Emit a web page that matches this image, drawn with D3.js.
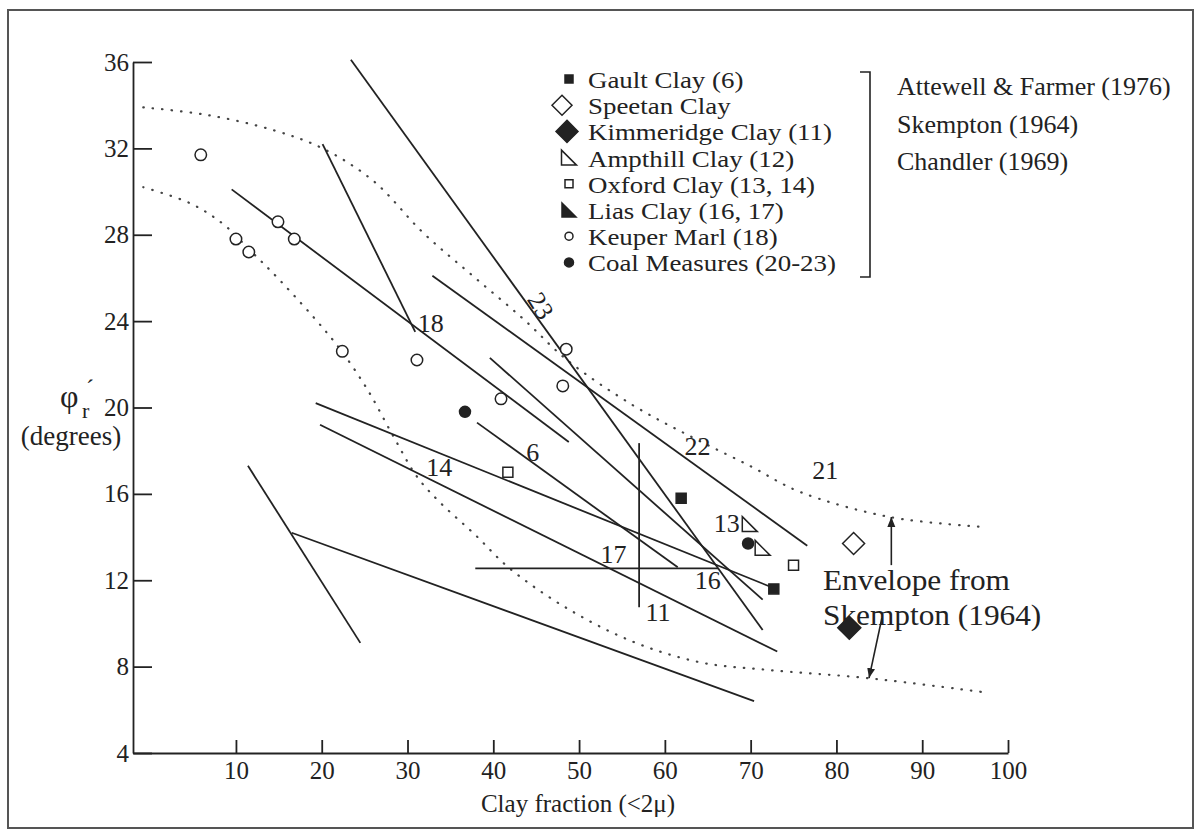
<!DOCTYPE html>
<html>
<head>
<meta charset="utf-8">
<script src="https://cdn.jsdelivr.net/npm/d3@7"></script>
<style>
  body { margin: 0; background: #fff; }
  text { font-family: "Liberation Serif", "Times New Roman", serif; fill: #222; }
</style>
</head>
<body>
<svg id="chart" width="1201" height="836"></svg>
<script>
// ---- data (clay fraction %, residual angle deg) ----
const keuperMarl = [[5.9,31.7],[10.0,27.8],[11.5,27.2],[14.9,28.6],[16.8,27.8],[22.4,22.6],[31.1,22.2],[40.9,20.4],[48.5,22.7],[48.1,21.0]]
const coalMeasures = [[36.7,19.8],[69.7,13.7]]
const gaultClay = [[61.9,15.8],[72.7,11.6]]
const oxfordClay = [[41.7,17.0],[75.0,12.7]]
const ampthillClay = [[69.9,14.6],[71.4,13.5]]
const speetanClay = [[82.0,13.7]]
const kimmeridgeClay = [[81.5,9.8]]

// straight lines from the different sources [x1,y1,x2,y2]
const trendLines = [
  [9.5,30.1,48.8,18.4],
  [20.1,32.2,30.9,23.5],
  [23.4,36.1,71.4,9.7],
  [32.9,26.1,76.6,13.6],
  [39.6,22.3,71.4,11.1],
  [38.1,19.3,61.5,12.6],
  [19.3,20.2,72.3,11.7],
  [19.8,19.2,73.1,8.7],
  [37.9,12.55,66.2,12.55],
  [57.0,18.35,57.0,10.75],
  [16.5,14.2,70.4,6.4],
  [11.4,17.3,24.5,9.1]
]
const lineLabels = ["18","23","22","21","6","14","17","16","11","13"]
const lineLabelPos = [[32.7,23.9],[45.5,24.7],[63.8,18.2],[78.7,17.1],[44.6,17.9],[33.7,17.2],[54.0,13.2],[65.0,12.0],[59.2,10.5],[67.2,14.65]]

// Skempton (1964) envelope
const upperEnvelope = [[-0.8,33.9],[6.6,33.55],[14.3,32.85],[20.1,32.0],[26.0,30.5],[31.8,28.1],[37.6,26.1],[43.5,24.1],[48.6,22.2],[56.3,20.1],[63.3,18.6],[69.9,17.3],[75.7,16.1],[86.2,14.93],[97.5,14.46]]
const lowerEnvelope = [[-0.8,30.2],[4.7,29.45],[8.5,28.5],[11.6,27.3],[15.1,25.9],[20.1,23.7],[22.4,22.56],[25.3,20.85],[28.3,18.7],[31.1,16.8],[33.8,15.6],[37.9,14.1],[41.9,12.55],[48.6,10.7],[56.3,9.15],[64.1,8.2],[71.9,7.85],[83.6,7.47],[97.5,6.8]]
const arrowFrom = [[86.4,12.7],[85.3,10.25]]
const arrowTo = [[86.4,14.93],[83.8,7.47]]

const xTicks = [10,20,30,40,50,60,70,80,90,100]
const yTicks = [4,8,12,16,20,24,28,32,36]

const legendNames = ["Gault Clay (6)","Speetan Clay","Kimmeridge Clay (11)","Ampthill Clay (12)","Oxford Clay (13, 14)","Lias Clay (16, 17)","Keuper Marl (18)","Coal Measures (20-23)"]
const legendMarks = ["squareFill","diamondOpen","diamondFill","triOpen","squareOpen","triFill","circleOpen","circleFill"]
const sources = ["Attewell & Farmer (1976)","Skempton (1964)","Chandler (1969)"]

// ---- set up ----
const svg = d3.select("#chart")
const ink = "#222"

svg.append("rect")
  .attr("x", 8).attr("y", 10).attr("width", 1185).attr("height", 818)
  .attr("fill", "none").attr("stroke", "#555").attr("stroke-width", 2)

let x = d3.scaleLinear().domain([-2, 100]).range([133, 1008])
let y = d3.scaleLinear().domain([4, 36]).range([753, 62])

// axes
let yAxis = svg.append("g")
  .attr("transform", "translate(133,0)")
  .call(d3.axisLeft(y).tickValues(yTicks).tickSizeInner(-19).tickSizeOuter(0).tickPadding(4))
let xAxis = svg.append("g")
  .attr("transform", "translate(0,753)")
  .call(d3.axisBottom(x).tickValues(xTicks).tickSizeInner(-13).tickSizeOuter(0).tickPadding(8))

for (let ax of [xAxis, yAxis]) {
  ax.selectAll("path, line").attr("stroke", ink).attr("stroke-width", 1.8)
  ax.selectAll("text").attr("font-size", 25).attr("fill", ink)
}

svg.append("text")
  .attr("x", 578).attr("y", 812)
  .attr("text-anchor", "middle")
  .attr("font-size", 25)
  .text("Clay fraction (<2\u03bc)")

// y label: phi_r'
svg.append("text").attr("x", 60).attr("y", 407).attr("font-size", 32).text("\u03c6")
svg.append("text").attr("x", 82).attr("y", 418).attr("font-size", 22).text("r")
svg.append("text").attr("x", 86).attr("y", 396).attr("font-size", 24).text("\u00b4")
svg.append("text")
  .attr("x", 71).attr("y", 445)
  .attr("text-anchor", "middle")
  .attr("font-size", 27)
  .text("(degrees)")

// envelope (dotted)
let curve = d3.line()
  .x(d => x(d[0]))
  .y(d => y(d[1]))
  .curve(d3.curveCatmullRom)

for (let env of [upperEnvelope, lowerEnvelope]) {
  svg.append("path")
    .attr("d", curve(env))
    .attr("fill", "none")
    .attr("stroke", "#444")
    .attr("stroke-width", 2.2)
    .attr("stroke-linecap", "round")
    .attr("stroke-dasharray", "0.5,9")
}

// straight lines
svg.selectAll(".trend")
  .data(trendLines)
  .enter().append("line")
  .attr("class", "trend")
  .attr("x1", d => x(d[0])).attr("y1", d => y(d[1]))
  .attr("x2", d => x(d[2])).attr("y2", d => y(d[3]))
  .attr("stroke", ink)
  .attr("stroke-width", 1.8)

// line labels
lineLabels.forEach((t, i) => {
  let lx = x(lineLabelPos[i][0]), ly = y(lineLabelPos[i][1])
  svg.append("text")
    .attr("x", lx).attr("y", ly)
    .attr("text-anchor", "middle")
    .attr("dominant-baseline", "central")
    .attr("font-size", 26)
    .attr("transform", t === "23" ? `rotate(58,${lx},${ly})` : null)
    .text(t)
})

// markers
const shapes = {
  square: s => `M${-s/2},${-s/2}h${s}v${s}h${-s}Z`,
  diamond: s => `M0,${-s/2}L${s/2},0L0,${s/2}L${-s/2},0Z`,
  tri: s => `M${-s/2},${-s/2}L${s/2},${s/2}L${-s/2},${s/2}Z`
}
function mark(g, kind, cx, cy, s) {
  let filled = kind.endsWith("Fill")
  let base = kind.replace("Fill", "").replace("Open", "")
  let el
  if (base === "circle") {
    el = g.append("circle").attr("cx", cx).attr("cy", cy).attr("r", s / 2)
  } else {
    el = g.append("path").attr("d", shapes[base](s)).attr("transform", `translate(${cx},${cy})`)
  }
  el.attr("fill", filled ? ink : "#fff").attr("stroke", ink).attr("stroke-width", 1.5)
}

const series = [
  [keuperMarl, "circleOpen", 11.5],
  [coalMeasures, "circleFill", 11],
  [gaultClay, "squareFill", 10],
  [oxfordClay, "squareOpen", 10],
  [ampthillClay, "triOpen", 15],
  [speetanClay, "diamondOpen", 22],
  [kimmeridgeClay, "diamondFill", 23]
]
let pts = svg.append("g")
for (let [data, kind, s] of series) {
  data.forEach(d => mark(pts, kind, x(d[0]), y(d[1]), s))
}

// arrows to envelope
svg.append("defs").append("marker")
  .attr("id", "head")
  .attr("viewBox", "0 0 10 10")
  .attr("refX", 10).attr("refY", 5)
  .attr("markerWidth", 10).attr("markerHeight", 10)
  .attr("markerUnits", "userSpaceOnUse")
  .attr("orient", "auto")
  .append("path").attr("d", "M0,1L10,5L0,9Z").attr("fill", ink)

arrowFrom.forEach((a, i) => {
  svg.append("line")
    .attr("x1", x(a[0])).attr("y1", y(a[1]))
    .attr("x2", x(arrowTo[i][0])).attr("y2", y(arrowTo[i][1]))
    .attr("stroke", ink).attr("stroke-width", 1.6)
    .attr("marker-end", "url(#head)")
})

// the annotation text is a little wide in the original, stretch it a bit
let envText = svg.append("g").attr("transform", "translate(823,0) scale(1.08,1)")
envText.append("text").attr("x", 0).attr("y", 590).attr("font-size", 29).text("Envelope from")
envText.append("text").attr("x", 0).attr("y", 625).attr("font-size", 29).text("Skempton (1964)")

// legend
const legendSizes = [8, 20, 22, 15, 8, 14, 8, 9]
const legendX = [569, 562, 567, 569, 569, 569, 569, 569]
let legend = svg.append("g")
let legendText = svg.append("g").attr("transform", "translate(588,0) scale(1.17,1)")
legendNames.forEach((name, i) => {
  let cy = 79 + i * 26.2
  mark(legend, legendMarks[i], legendX[i], cy, legendSizes[i])
  legendText.append("text")
    .attr("x", 0).attr("y", cy + 9)
    .attr("font-size", 23)
    .text(name)
})

svg.append("path")
  .attr("d", "M860,72H870V277H860")
  .attr("fill", "none").attr("stroke", ink).attr("stroke-width", 1.6)

const sourceY = [95, 133, 170]
sources.forEach((s, i) => {
  svg.append("text").attr("x", 897).attr("y", sourceY[i]).attr("font-size", 26).text(s)
})
</script>
</body>
</html>
